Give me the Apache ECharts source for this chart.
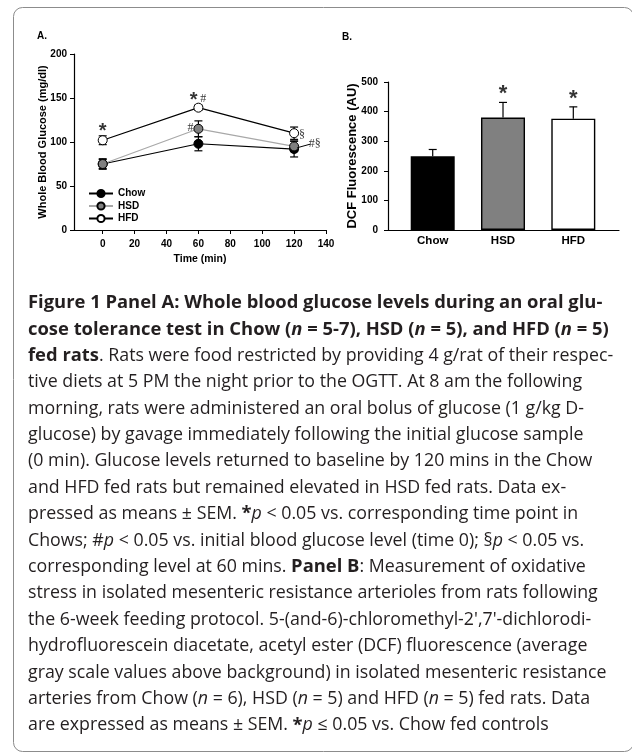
<!DOCTYPE html>
<html>
<head>
<meta charset="utf-8">
<script src="https://cdn.jsdelivr.net/npm/echarts@6/dist/echarts.min.js"></script>
<style>
  html, body { margin: 0; padding: 0; background: #fff; }
  #chart { width: 632px; height: 755px; }
</style>
</head>
<body>
<div id="chart"></div>
<script>
// ---------- Panel A data (oral glucose tolerance test) ----------
const timesA = [0, 60, 120];
const chowMean = [75, 98, 92];
const chowErr = [6, 8, 9];
const hsdMean = [75, 115, 95];
const hsdErr = [5, 9, 6];
const hfdMean = [102, 139, 110];
const hfdErr = [5, 3, 7];
const xTicksA = [0, 20, 40, 60, 80, 100, 120, 140];
// significance marks: [time, glucose, text, kind]
const annotA = [
  [0, 112, '*', 'star'],
  [57, 147, '*', 'star'],
  [63, 149, '#', 'serif'],
  [55, 116, '#', 'serif'],
  [125, 108, '§', 'serif'],
  [133, 98, '#§', 'serif']
];
const leaderA = [[122, 93.5], [130, 97.5]];

// ---------- Panel B data (DCF fluorescence) ----------
const groupsB = ['Chow', 'HSD', 'HFD'];
const dcfMean = [249, 380, 376];
const dcfErr = [23, 51, 40];
const starsB = [[2, 458, '*'], [3, 442, '*']];

// ---------- Caption ----------
const captionLines = [
  '{b|Figure 1 Panel A: Whole blood glucose levels during an oral glu-}',
  '{b|cose tolerance test in Chow (}{bi|n}{b| = 5-7), HSD (}{bi|n}{b| = 5), and HFD (}{bi|n}{b| = 5)}',
  '{b|fed rats}. Rats were food restricted by providing 4 g/rat of their respec-',
  'tive diets at 5 PM the night prior to the OGTT. At 8 am the following',
  'morning, rats were administered an oral bolus of glucose (1 g/kg D-',
  'glucose) by gavage immediately following the initial glucose sample',
  '(0 min). Glucose levels returned to baseline by 120 mins in the Chow',
  'and HFD fed rats but remained elevated in HSD fed rats. Data ex-',
  'pressed as means ± SEM. {b|*}{i|p} < 0.05 vs. corresponding time point in',
  'Chows; #{i|p} < 0.05 vs. initial blood glucose level (time 0); §{i|p} < 0.05 vs.',
  'corresponding level at 60 mins. {b|Panel B}: Measurement of oxidative',
  'stress in isolated mesenteric resistance arterioles from rats following',
  "the 6-week feeding protocol. 5-(and-6)-chloromethyl-2',7'-dichlorodi-",
  'hydrofluorescein diacetate, acetyl ester (DCF) fluorescence (average',
  'gray scale values above background) in isolated mesenteric resistance',
  'arteries from Chow ({i|n} = 6), HSD ({i|n} = 5) and HFD ({i|n} = 5) fed rats. Data',
  'are expressed as means ± SEM. {b|*}{i|p} ≤ 0.05 vs. Chow fed controls'
];

const AX = 'Liberation Sans, Arial, sans-serif';
const CAP = 'Open Sans, sans-serif';
const CAP_SIZE = 17.8;
const CAP_BOLD = 18.4;

function errorBars(capLow) {
  return function (params, api) {
    const x = api.value(0), lo = api.value(1), hi = api.value(2);
    const pLo = api.coord([x, lo]);
    const pHi = api.coord([x, hi]);
    const hw = 4;
    const st = { stroke: '#000', lineWidth: 1.2 };
    const ch = [
      { type: 'line', shape: { x1: pHi[0], y1: pHi[1], x2: pLo[0], y2: pLo[1] }, style: st },
      { type: 'line', shape: { x1: pHi[0] - hw, y1: pHi[1], x2: pHi[0] + hw, y2: pHi[1] }, style: st }
    ];
    if (capLow) {
      ch.push({ type: 'line', shape: { x1: pLo[0] - hw, y1: pLo[1], x2: pLo[0] + hw, y2: pLo[1] }, style: st });
    }
    return { type: 'group', children: ch };
  };
}

function pairs(xs, ys) { return xs.map((x, i) => [x, ys[i]]); }
function errData(xs, m, e) { return xs.map((x, i) => [x, m[i] - e[i], m[i] + e[i]]); }

const lineSeries = (name, mean, fill, lineColor) => ({
  name: name,
  type: 'line',
  xAxisIndex: 0, yAxisIndex: 0,
  data: pairs(timesA, mean),
  symbol: 'circle',
  symbolSize: 9,
  z: 3,
  lineStyle: { color: lineColor, width: 1.2 },
  itemStyle: { color: fill, borderColor: '#000', borderWidth: 1 },
  emphasis: { disabled: true },
  animation: false
});

const errSeriesA = (mean, err) => ({
  type: 'custom',
  xAxisIndex: 0, yAxisIndex: 0,
  renderItem: errorBars(true),
  data: errData(timesA, mean, err),
  encode: { x: 0, y: [1, 2] },
  z: 2, silent: true, animation: false
});

const chart = echarts.init(document.getElementById('chart'), null, { renderer: 'canvas' });

const graphics = [
  { type: 'rect', shape: { x: 13.5, y: 7.5, width: 620, height: 744, r: 9 },
    style: { fill: 'none', stroke: '#8c8c8c', lineWidth: 1 }, silent: true },
  { type: 'text', left: 37, top: 31, style: { text: 'A.', font: 'bold 10px ' + AX, fill: '#000' } },
  { type: 'text', left: 342, top: 32, style: { text: 'B.', font: 'bold 10px ' + AX, fill: '#000' } }
];
captionLines.forEach((t, i) => {
  graphics.push({
    type: 'text',
    x: 28, y: 303 + i * 26.4,
    style: {
      text: t,
      fontFamily: CAP, fontSize: CAP_SIZE, fill: '#231f20',
      verticalAlign: 'middle', align: 'left',
      rich: {
        b: { fontFamily: CAP, fontSize: CAP_BOLD, fontWeight: 'bold', fill: '#231f20' },
        bi: { fontFamily: CAP, fontSize: CAP_BOLD, fontWeight: 'bold', fontStyle: 'italic', fill: '#231f20' },
        i: { fontFamily: CAP, fontSize: CAP_SIZE, fontStyle: 'italic', fill: '#231f20' }
      }
    },
    silent: true
  });
});

const option = {
  animation: false,
  backgroundColor: '#fff',
  graphic: graphics,
  legend: {
    data: ['Chow', 'HSD', 'HFD'],
    orient: 'vertical',
    left: 83, top: 183.5,
    itemWidth: 24, itemHeight: 9, itemGap: 2.5,
    textStyle: { fontFamily: AX, fontWeight: 'bold', fontSize: 10, color: '#000' },
    selectedMode: false
  },
  grid: [
    { left: 74, top: 54, width: 252, height: 176 },
    { left: 388, top: 82, width: 231, height: 148 }
  ],
  xAxis: [
    {
      type: 'value', gridIndex: 0, min: -18, max: 140,
      name: 'Time (min)', nameLocation: 'middle', nameGap: 24, nameMoveOverlap: false,
      nameTextStyle: { fontFamily: AX, fontWeight: 'bold', fontSize: 10.5, color: '#000' },
      axisLine: { onZero: false, lineStyle: { color: '#000', width: 1.2 } },
      axisTick: { show: true, length: 4, customValues: xTicksA, lineStyle: { color: '#000' } },
      axisLabel: { customValues: xTicksA, margin: 9, fontFamily: AX, fontWeight: 'bold', fontSize: 10, color: '#000' },
      splitLine: { show: false }
    },
    {
      type: 'value', gridIndex: 1, min: 0.364, max: 3.65,
      axisLine: { onZero: false, lineStyle: { color: '#000', width: 1.2 } },
      axisTick: { show: false },
      axisLabel: {
        customValues: [1, 2, 3], margin: 5,
        formatter: v => groupsB[Math.round(v) - 1],
        fontFamily: AX, fontWeight: 'bold', fontSize: 11.5, color: '#000'
      },
      splitLine: { show: false }
    }
  ],
  yAxis: [
    {
      type: 'value', gridIndex: 0, min: 0, max: 200, interval: 50,
      name: 'Whole Blood Glucose (mg/dl)', nameLocation: 'middle', nameGap: 25.5, nameMoveOverlap: false,
      nameTextStyle: { fontFamily: AX, fontWeight: 'bold', fontSize: 11, color: '#000' },
      axisLine: { show: true, onZero: false, lineStyle: { color: '#000', width: 1.2 } },
      axisTick: { show: true, length: 4, lineStyle: { color: '#000' } },
      axisLabel: { margin: 7, fontFamily: AX, fontWeight: 'bold', fontSize: 10, color: '#000' },
      splitLine: { show: false }
    },
    {
      type: 'value', gridIndex: 1, min: 0, max: 500, interval: 100,
      name: 'DCF Fluorescence (AU)', nameLocation: 'middle', nameGap: 29.5, nameMoveOverlap: false,
      nameTextStyle: { fontFamily: AX, fontWeight: 'bold', fontSize: 13, color: '#000' },
      axisLine: { show: true, onZero: false, lineStyle: { color: '#000', width: 1.2 } },
      axisTick: { show: true, length: 4, lineStyle: { color: '#000' } },
      axisLabel: { margin: 10, fontFamily: AX, fontWeight: 'bold', fontSize: 10, color: '#000' },
      splitLine: { show: false }
    }
  ],
  series: [
    errSeriesA(chowMean, chowErr),
    errSeriesA(hsdMean, hsdErr),
    errSeriesA(hfdMean, hfdErr),
    lineSeries('Chow', chowMean, '#000', '#000'),
    lineSeries('HSD', hsdMean, '#808080', '#a8a8a8'),
    lineSeries('HFD', hfdMean, '#fff', '#000'),
    {
      type: 'scatter', xAxisIndex: 0, yAxisIndex: 0,
      data: annotA.map(a => ({
        value: [a[0], a[1]],
        label: a[3] === 'star'
          ? { fontFamily: AX, fontWeight: 'bold', fontSize: 20 }
          : { fontFamily: 'Liberation Serif, Times New Roman, serif', fontSize: 12 },
        name: a[2]
      })),
      symbolSize: 1,
      itemStyle: { color: 'rgba(0,0,0,0)' },
      label: { show: true, position: 'inside', formatter: p => p.name, color: '#000' },
      markLine: {
        silent: true, symbol: 'none', animation: false,
        lineStyle: { color: '#000', width: 1, type: 'solid' },
        label: { show: false },
        data: [[{ coord: leaderA[0] }, { coord: leaderA[1] }]]
      },
      z: 5, silent: true, animation: false
    },
    {
      type: 'bar', xAxisIndex: 1, yAxisIndex: 1,
      data: dcfMean.map((v, i) => ({
        value: [i + 1, v],
        itemStyle: { color: ['#000', '#808080', '#fff'][i] }
      })),
      barWidth: 44,
      itemStyle: { borderColor: '#000', borderWidth: 1.4 },
      z: 2, silent: true, animation: false
    },
    {
      type: 'custom', xAxisIndex: 1, yAxisIndex: 1,
      renderItem: errorBars(false),
      data: dcfMean.map((m, i) => [i + 1, m, m + dcfErr[i]]),
      encode: { x: 0, y: [1, 2] },
      z: 3, silent: true, animation: false
    },
    {
      type: 'scatter', xAxisIndex: 1, yAxisIndex: 1,
      data: starsB.map(s => ({ value: [s[0], s[1]], name: s[2] })),
      symbolSize: 1,
      itemStyle: { color: 'rgba(0,0,0,0)' },
      label: { show: true, position: 'inside', formatter: p => p.name, color: '#000',
               fontFamily: AX, fontWeight: 'bold', fontSize: 22 },
      z: 5, silent: true, animation: false
    }
  ]
};
chart.setOption(option);
</script>
</body>
</html>
